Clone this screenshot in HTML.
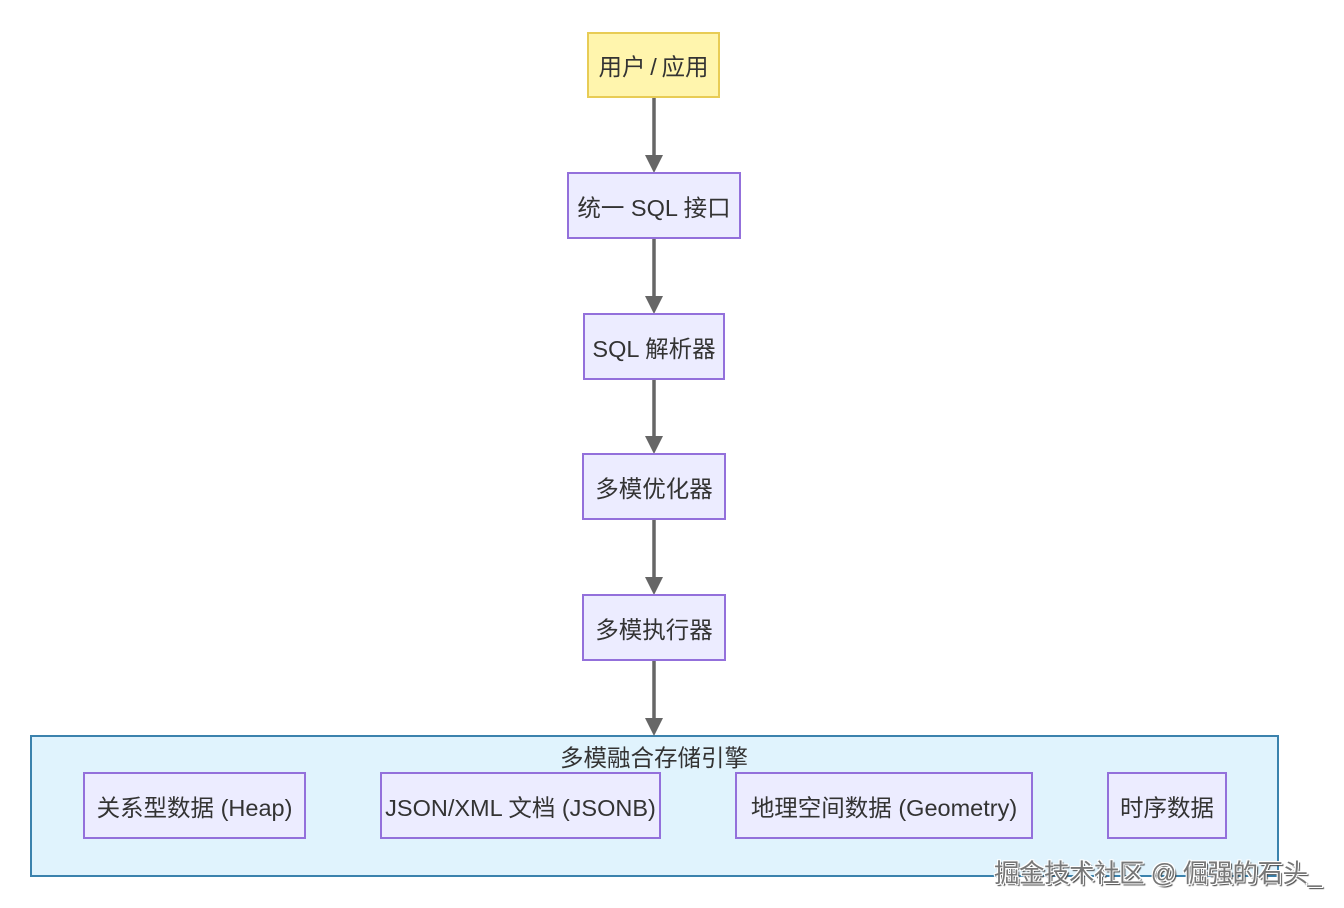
<!DOCTYPE html>
<html><head><meta charset="utf-8"><style>
html,body{margin:0;padding:0;background:#fff;}
body{width:1344px;height:908px;position:relative;overflow:hidden;font-family:"Liberation Sans","Noto Sans CJK SC",sans-serif;color:#333;}
.b{position:absolute;box-sizing:border-box;background:#ececff;border:2px solid #9370db;display:flex;align-items:center;justify-content:center;font-size:23.5px;white-space:nowrap;}
.y{background:#fff5ad;border-color:#e8cc55;}
.c{position:absolute;box-sizing:border-box;left:30px;top:735px;width:1249px;height:142px;background:#e0f3fd;border:2px solid #3b82ad;}
.t{position:absolute;left:0;width:1308px;top:739px;text-align:center;font-size:23.5px;}
.w{position:absolute;left:994px;top:853px;font-size:25.5px;color:#777;letter-spacing:-0.5px;text-shadow:1px 1px 0 #fff,-1px -1px 0 #fff,1px -1px 0 #fff,-1px 1px 0 #fff,2px 2px 1px #444;}
</style></head><body>
<div class="c"></div>
<div class="t">多模融合存储引擎</div>
<svg width="1344" height="908" style="position:absolute;left:0;top:0">
<g stroke="#666" stroke-width="3.5" fill="#666">
<line x1="654" y1="97" x2="654" y2="160"/><polygon points="645,155 663,155 654,173" stroke="none"/>
<line x1="654" y1="238" x2="654" y2="301"/><polygon points="645,296 663,296 654,314" stroke="none"/>
<line x1="654" y1="379" x2="654" y2="441"/><polygon points="645,436 663,436 654,454" stroke="none"/>
<line x1="654" y1="519" x2="654" y2="582"/><polygon points="645,577 663,577 654,595" stroke="none"/>
<line x1="654" y1="660" x2="654" y2="723"/><polygon points="645,718 663,718 654,736" stroke="none"/>
</g></svg>
<div class="b y" style="left:587px;top:32px;width:133px;height:66px">用户&#8201;/&#8201;应用</div>
<div class="b" style="left:567px;top:172px;width:174px;height:67px">统一 SQL 接口</div>
<div class="b" style="left:583px;top:313px;width:142px;height:67px">SQL 解析器</div>
<div class="b" style="left:582px;top:453px;width:144px;height:67px">多模优化器</div>
<div class="b" style="left:582px;top:594px;width:144px;height:67px">多模执行器</div>
<div class="b" style="left:83px;top:772px;width:223px;height:67px">关系型数据 (Heap)</div>
<div class="b" style="left:380px;top:772px;width:281px;height:67px">JSON/XML 文档 (JSONB)</div>
<div class="b" style="left:735px;top:772px;width:298px;height:67px">地理空间数据 (Geometry)</div>
<div class="b" style="left:1107px;top:772px;width:120px;height:67px">时序数据</div>
<div class="w">掘金技术社区 @ 倔强的石头_</div>
</body></html>
